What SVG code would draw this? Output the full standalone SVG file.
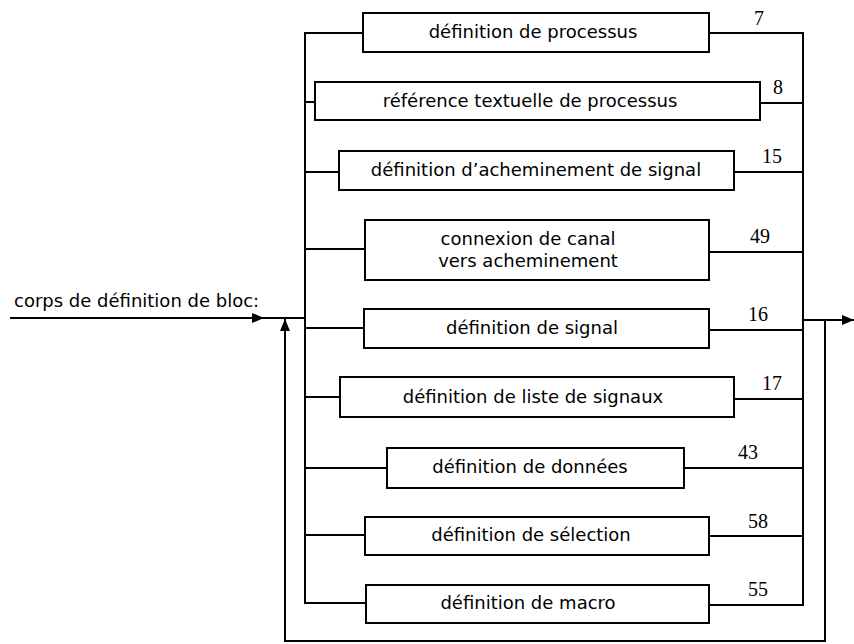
<svg xmlns="http://www.w3.org/2000/svg" width="854" height="644" viewBox="0 0 854 644">
<style>
  .box { fill: #fff; stroke: #000; stroke-width: 2; }
  .ln { fill: none; stroke: #000; stroke-width: 2; }
  .lbl { font-family: "DejaVu Sans", "Liberation Sans", sans-serif; font-size: 18px; fill: #000; text-anchor: middle; }
  .num { font-family: "Liberation Serif", "DejaVu Serif", serif; font-size: 20px; fill: #000; text-anchor: middle; }
  .title { font-family: "DejaVu Sans", "Liberation Sans", sans-serif; font-size: 18px; fill: #000; }
</style>
<defs>
  <marker id="arr" markerUnits="userSpaceOnUse" markerWidth="12" markerHeight="10" refX="12" refY="5" orient="auto">
    <path d="M0,0 L12,5 L0,10 z" fill="#000"/>
  </marker>
</defs>
<rect width="854" height="644" fill="#fff"/>

<text class="title" x="14" y="307">corps de définition de bloc:</text>

<g id="connectors">
  <line class="ln" x1="10" y1="318" x2="264" y2="318" marker-end="url(#arr)"/>
  <line class="ln" x1="262" y1="318" x2="306" y2="318"/>
  <line class="ln" x1="305" y1="32" x2="305" y2="604"/>
  <line class="ln" x1="803" y1="32" x2="803" y2="606"/>
  <line class="ln" x1="803" y1="320" x2="854" y2="320" marker-end="url(#arr)"/>
  <polyline class="ln" points="825,320 825,641 285,641 285,319" marker-end="url(#arr)"/>
  <line class="ln" x1="305" y1="33" x2="363" y2="33"/>
  <line class="ln" x1="305" y1="102" x2="315" y2="102"/>
  <line class="ln" x1="305" y1="172" x2="339" y2="172"/>
  <line class="ln" x1="305" y1="249" x2="365" y2="249"/>
  <line class="ln" x1="305" y1="328" x2="364" y2="328"/>
  <line class="ln" x1="305" y1="397" x2="340" y2="397"/>
  <line class="ln" x1="305" y1="468" x2="387" y2="468"/>
  <line class="ln" x1="305" y1="535" x2="365" y2="535"/>
  <line class="ln" x1="305" y1="603" x2="366" y2="603"/>
  <line class="ln" x1="709" y1="33" x2="803" y2="33"/>
  <line class="ln" x1="760" y1="103" x2="803" y2="103"/>
  <line class="ln" x1="734" y1="172" x2="803" y2="172"/>
  <line class="ln" x1="709" y1="252" x2="803" y2="252"/>
  <line class="ln" x1="709" y1="330" x2="803" y2="330"/>
  <line class="ln" x1="734" y1="399" x2="803" y2="399"/>
  <line class="ln" x1="684" y1="468" x2="803" y2="468"/>
  <line class="ln" x1="709" y1="536" x2="803" y2="536"/>
  <line class="ln" x1="709" y1="605" x2="803" y2="605"/>
</g>

<g id="n7">
  <rect class="box" x="363" y="13" width="346" height="39"/>
  <text class="lbl" x="533" y="38">définition de processus</text>
  <text class="num" x="759" y="25">7</text>
</g>
<g id="n8">
  <rect class="box" x="315" y="82" width="445" height="38"/>
  <text class="lbl" x="530" y="107">référence textuelle de processus</text>
  <text class="num" x="778" y="94">8</text>
</g>
<g id="n15">
  <rect class="box" x="339" y="151" width="395" height="39"/>
  <text class="lbl" x="536" y="176">définition d’acheminement de signal</text>
  <text class="num" x="772" y="163">15</text>
</g>
<g id="n49">
  <rect class="box" x="365" y="220" width="344" height="60"/>
  <text class="lbl" x="528" y="245">connexion de canal</text>
  <text class="lbl" x="528" y="267">vers acheminement</text>
  <text class="num" x="760" y="243">49</text>
</g>
<g id="n16">
  <rect class="box" x="364" y="309" width="345" height="39"/>
  <text class="lbl" x="532" y="334">définition de signal</text>
  <text class="num" x="758" y="321">16</text>
</g>
<g id="n17">
  <rect class="box" x="340" y="377" width="394" height="40"/>
  <text class="lbl" x="533" y="403">définition de liste de signaux</text>
  <text class="num" x="772" y="390">17</text>
</g>
<g id="n43">
  <rect class="box" x="387" y="448" width="297" height="40"/>
  <text class="lbl" x="530" y="473">définition de données</text>
  <text class="num" x="748" y="459">43</text>
</g>
<g id="n58">
  <rect class="box" x="365" y="517" width="344" height="38"/>
  <text class="lbl" x="531" y="541">définition de sélection</text>
  <text class="num" x="758" y="528">58</text>
</g>
<g id="n55">
  <rect class="box" x="366" y="585" width="343" height="38"/>
  <text class="lbl" x="528" y="609">définition de macro</text>
  <text class="num" x="758" y="596">55</text>
</g>
</svg>
